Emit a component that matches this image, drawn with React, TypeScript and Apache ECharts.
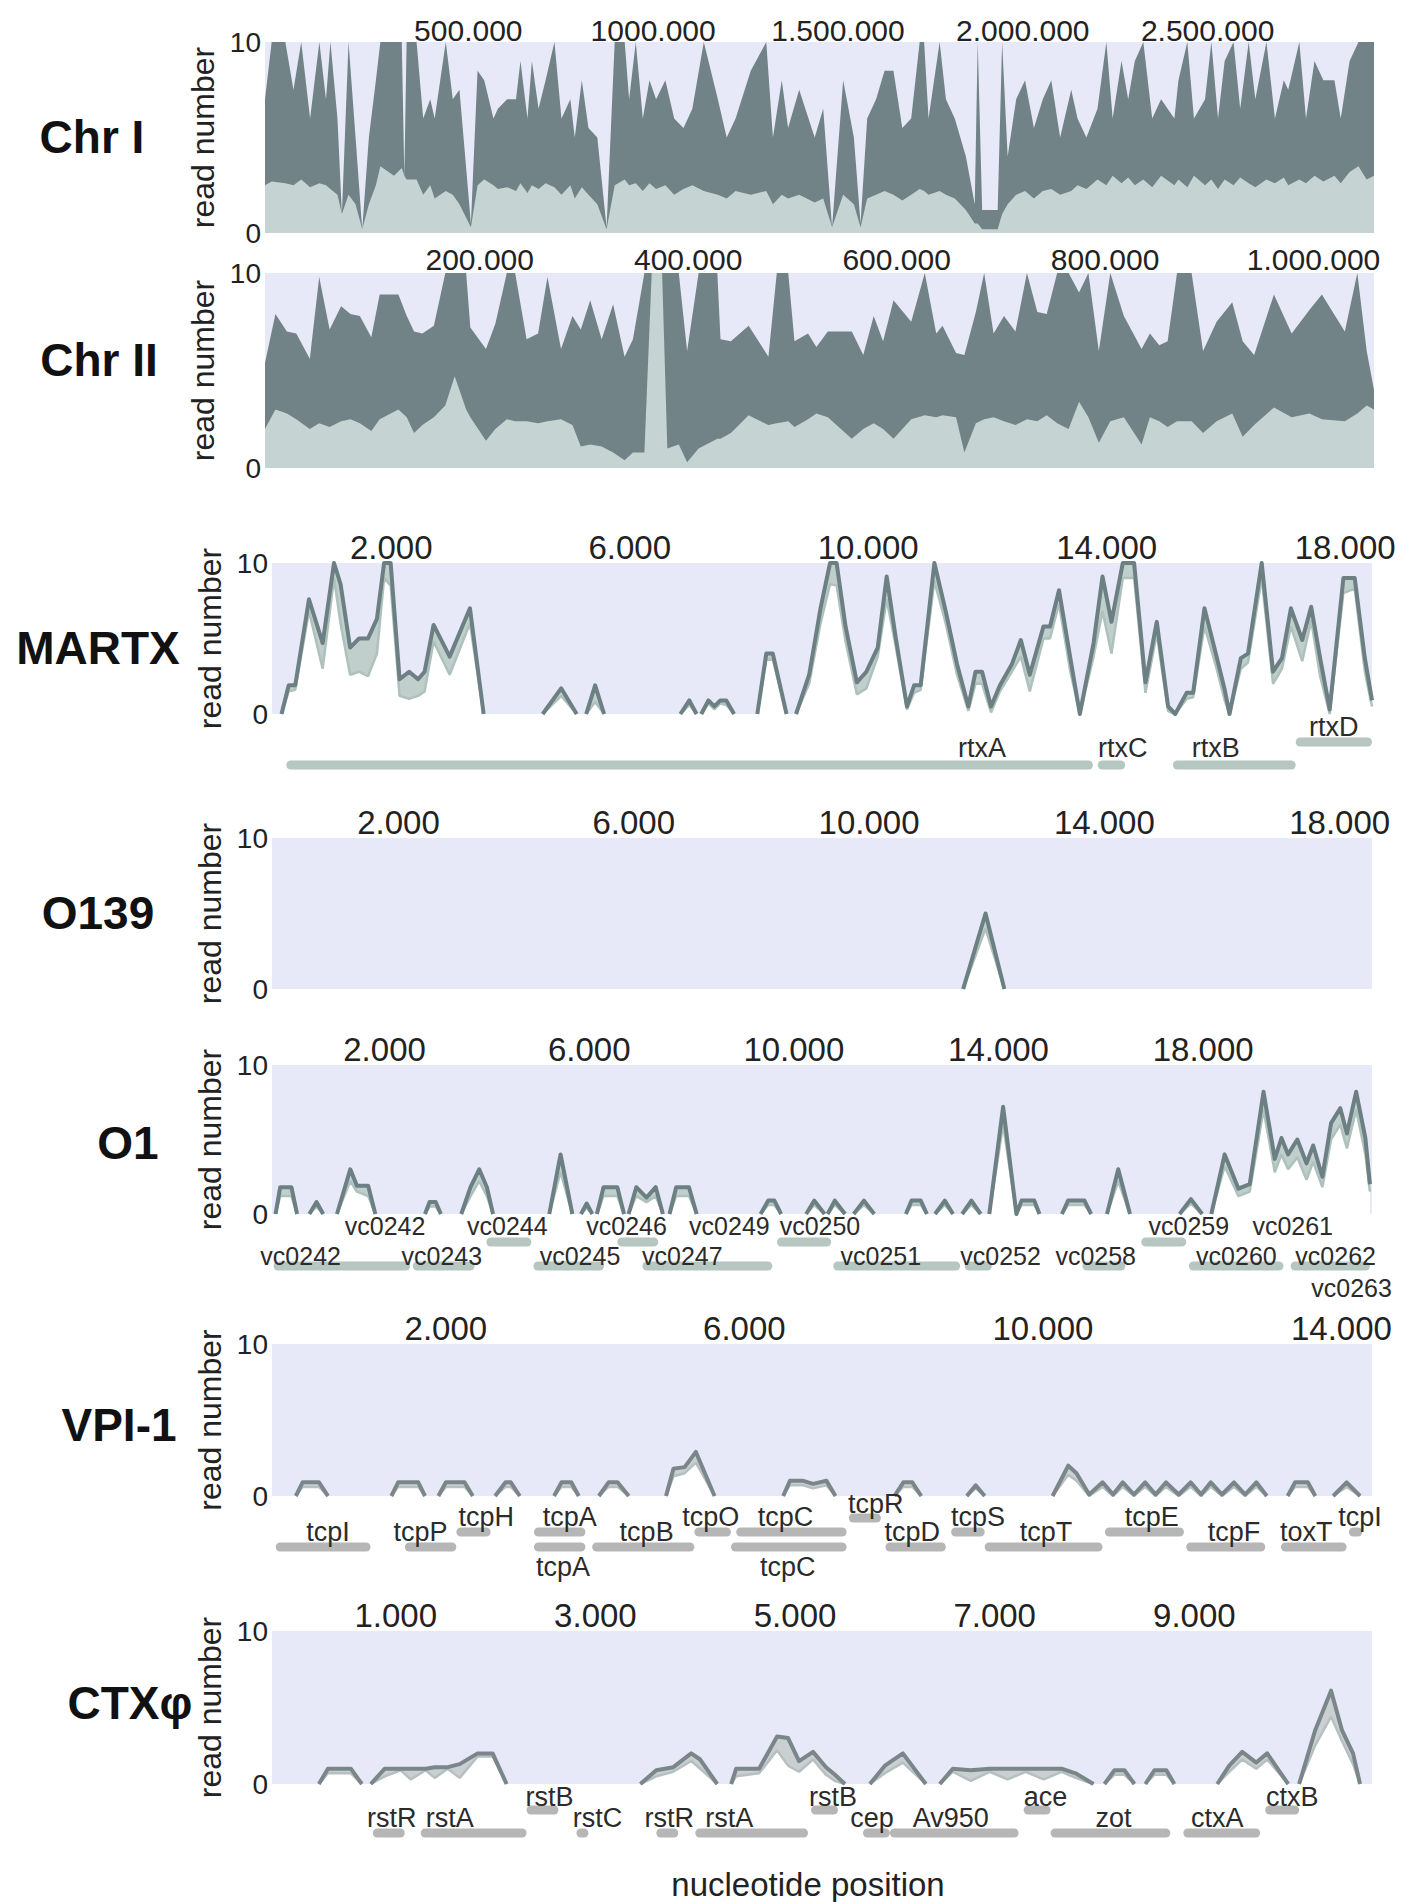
import React, { useEffect, useRef } from "react";
import * as echarts from "echarts";

const FONT = '"Liberation Sans", Arial, Helvetica, sans-serif';

// ---------------- Chr I (positions in kb) ----------------
const chr1Pos = [-50,-32,5,27,48,72,97,115,127,146,158,176,195,213,231,250,262,299,320,327,333,360,378,397,409,439,458,476,507,525,543,568,580,605,629,641,660,672,690,709,733,752,776,788,807,825,849,874,896,923,935,953,972,990,1008,1033,1057,1082,1106,1137,1175,1199,1223,1264,1306,1324,1348,1365,1395,1437,1460,1484,1514,1543,1561,1579,1603,1626,1650,1674,1698,1721,1733,1745,1775,1792,1816,1846,1870,1878,1890,1932,1944,1959,1982,2006,2030,2054,2077,2101,2131,2148,2172,2202,2226,2243,2267,2285,2303,2326,2350,2374,2410,2421,2445,2463,2493,2510,2528,2546,2570,2588,2611,2629,2659,2682,2706,2718,2748,2766,2789,2813,2843,2860,2884,2908,2930,2950];
const chr1High = [7,10,10,7.5,10,6,10,7,10,6,1,10,5,0.2,5,8,10,10,10,3,10,10,6,7,6,10,7,7.5,0.5,8.5,8,6,6.5,7,7,9,6,9,6.5,8,10,6,7,5,8,5.5,5,0.3,10,10,7,10,6,8,7,8,6,5.5,6.5,10,7,5,6,8.5,10,5,8,5.5,7.5,5,6.5,0.3,8,5,0.5,6,7,8.5,8.5,5.5,6,10,10,6,10,7,6,4,1.5,10,1.2,1.2,10,4,7,8,5.5,7,8,5,7.5,6,5,6.5,10,6,9,7,9,10,6,7,6,8,10,6,7,10,6,9,10,6.5,10,7,10,6,8,7.5,10,6,9,8,8,6,9,10,10,10];
const chr1Low = [2.5,2.7,2.6,2.5,2.8,2.4,2.6,2.5,2.3,2,1,2,1.5,0.2,1.5,2.5,3.5,3,3.4,3,2.8,2.8,2,2.5,1.8,2.2,2,1.5,0.3,2.5,2.8,2.5,2.3,2.4,2.2,2.6,2.1,2.5,2.3,2.6,2.4,2,2.5,1.8,2.4,2,1.5,0.2,2.5,2.8,2.5,2.6,2.2,2.6,2.3,2.5,2,2.3,2.5,2.2,2,1.8,2.2,2,2.2,1.5,2,1.8,2,1.6,1.8,0.3,2,1.5,0.3,1.8,2,2.2,2,1.7,2,2.3,2.2,2,2.2,2,1.8,1.2,0.5,0.5,0.2,0.2,1,1.5,2,2.2,1.8,2.2,2.3,2,2.2,2.5,2.3,2.8,2.5,3,2.6,2.9,2.5,2.8,2.4,3,2.5,2.8,2.4,3,2.5,2.8,2.3,2.8,2.5,2.9,2.6,2.4,2.8,2.6,2.9,2.5,2.8,2.6,3,2.7,3,2.6,3.2,3.5,2.8,3];
const chr1Ticks = [500, 1000, 1500, 2000, 2500];
const chr1TickLabels = ["500.000", "1000.000", "1.500.000", "2.000.000", "2.500.000"];

// ---------------- Chr II (kb) ----------------
const chr2Pos = [-6,4,15,24,37,46,56,67,76,85,96,104,122,130,137,145,156,167,176,187,191,206,215,226,234,245,256,265,278,289,297,306,317,328,339,347,358,365,375,380,391,399,410,428,431,441,458,477,485,496,502,515,523,534,557,568,578,587,597,614,627,638,644,657,665,676,684,693,703,714,725,735,744,754,765,775,784,794,805,818,835,843,852,860,869,883,894,907,922,932,943,962,979,996,1008,1030,1042,1051,1058];
const chr2High = [5.4,7.9,7,6.9,5.6,9.8,7.1,8.3,7.9,7.8,6.7,8.9,8.9,7.8,7,6.9,7.3,10,10,10,7.2,6.1,7.4,10,10,6.6,6.9,9.8,6.1,7.8,7.1,8.6,6.6,8.4,5.7,6.6,10,10,10,10,10,6,10,10,6.6,6.5,7.3,5.7,10,10,6.5,6.9,6.2,7,7,5.8,7.8,6.5,8.6,7.5,10,6.9,7.3,5.9,5.8,8,10,6.9,7.8,7,10,8,7.9,10,10,9,10,6,10,7.8,6.1,6.9,6.3,6.5,10,10,6,7.5,8.5,6.5,5.8,8.9,6.9,8.1,8.9,7,10,6,4];
const chr2Low = [2,3,2.8,2.5,2,2.3,2.1,2.4,2.5,2.3,1.9,2.5,3,2.6,1.8,2.2,2.6,3.2,4.7,3,2.6,1.4,2,2.5,2.4,2.4,2.3,2.4,2.5,2.2,1.1,1.2,1.1,0.8,0.4,0.8,0.8,10,10,1,1.2,0.3,1,1.5,1.5,1.8,2.7,2.2,2.3,2.4,2.1,2.5,2.8,2.6,1.5,2,2.3,2,1.5,2.5,2.7,2.6,2.7,2.6,0.8,2.3,2.5,2.6,2.4,2.2,2.5,2.4,2.7,2.3,2,3.4,2.6,1.3,2.4,2.6,1.2,2.6,2.4,2.1,2.4,2.4,1.8,2.4,2.8,1.6,2.2,3.1,2.6,2.8,2.5,2.4,2.8,3.2,3];
const chr2Ticks = [200, 400, 600, 800, 1000];
const chr2TickLabels = ["200.000", "400.000", "600.000", "800.000", "1.000.000"];

// ---------------- MARTX (kb) ----------------
const martxPos = [0.16,0.28,0.39,0.62,0.85,1.04,1.15,1.31,1.46,1.61,1.76,1.88,1.99,2.14,2.3,2.45,2.56,2.71,2.98,3.32,3.55,null,4.54,4.85,5.11,null,5.27,5.42,5.57,null,6.85,7.0,7.12,null,7.2,7.32,7.42,7.52,7.62,7.75,null,8.14,8.29,8.4,8.63,null,8.79,9.01,9.2,9.36,9.47,9.62,9.81,9.97,10.16,10.31,10.46,10.65,10.77,10.88,11.11,11.3,11.49,11.68,11.8,11.91,12.06,12.21,12.41,12.56,12.71,12.94,13.05,13.2,13.39,13.55,13.78,13.93,14.08,14.27,14.46,14.65,14.84,15.03,15.15,15.34,15.45,15.64,15.83,15.98,16.06,16.25,16.37,16.6,16.79,16.94,17.09,17.28,17.43,17.58,17.74,17.97,18.16,18.33,18.45];
const martxHigh = [0,1.9,1.9,7.6,4.7,10,8.6,4.4,5,5,6.3,10,10,2.3,2.8,2.3,2.8,5.9,3.8,7,0,null,0,1.7,0,null,0,1.9,0,null,0,0.9,0,null,0,0.9,0.5,0.9,0.9,0,null,0,4,4,0,null,0,2.6,7,10,10,5.8,2.1,2.8,4.4,9.1,5.1,0.5,1.9,1.9,10,6.8,3.3,0.5,2.8,2.8,0.5,1.9,3.3,4.9,2.6,5.8,5.8,8.2,3.7,0,4.7,9.1,6.1,10,10,2.1,6.1,0.5,0,1.4,1.4,7,4,1.6,0,3.7,4,10,2.8,3.7,7,4.9,7.1,3.7,0.3,9,9,3.7,0.9];
const martxLow = [0,1.5,1.6,6.8,3,9,6,2.6,2.8,2.5,4,9,8.5,1.2,1,1.2,1.5,4.8,2.6,6,0,null,0,1.2,0,null,0,0.8,0,null,0,0.6,0,null,0,0.7,0.3,0.7,0.6,0,null,0,3.6,3.6,0,null,0,2,6,8.6,8.5,4.8,1.3,1.7,3.8,7.6,4.5,0.3,1.4,1.6,8.8,6,2.6,0.2,2,2,0.1,1.5,2.8,3.8,1.5,5,5,7.3,2.8,0,3.8,6.8,4,9,9,1.4,5.3,0.2,0,1,1.1,5.8,3.2,0.9,0,3,3.4,9,2,3,5.8,3.5,6.2,2.5,0,8,8.3,2.8,0.5];
const martxTicks = [2, 6, 10, 14, 18];
const martxTickLabels = ["2.000", "6.000", "10.000", "14.000", "18.000"];
const martxGeneNames = ["rtxA", "rtxC", "rtxB", "rtxD"];
const martxGeneStart = [0.24, 13.85, 15.11, 17.17];
const martxGeneEnd = [13.77, 14.31, 17.17, 18.45];
const martxGeneRow = [0, 0, 0, 1];
const martxLabelAt = [11.91, 14.27, 15.83, 17.81];
const martxLabelRow = [0, 0, 0, 1];

// ---------------- O139 (kb) ----------------
const o139Pos = [11.6, 11.98, 12.3];
const o139High = [0, 5, 0];
const o139Low = [0, 4, 0];
const o139Ticks = [2, 6, 10, 14, 18];
const o139TickLabels = ["2.000", "6.000", "10.000", "14.000", "18.000"];

// ---------------- O1 (kb) ----------------
const o1Pos = [-0.13,-0.04,0.18,0.29,null,0.53,0.67,0.8,null,1.07,1.33,1.46,1.68,1.82,null,2.79,2.88,3.0,3.1,null,3.5,3.68,3.85,4.0,4.12,null,5.22,5.44,5.67,null,5.84,5.95,6.06,null,6.15,6.28,6.55,6.68,null,6.77,6.92,7.12,7.3,7.44,null,7.57,7.7,7.95,8.1,null,9.35,9.5,9.62,9.75,null,10.24,10.4,10.6,null,10.66,10.8,11.0,null,11.17,11.37,11.57,null,12.19,12.3,12.48,12.6,null,12.76,12.95,13.11,null,13.29,13.47,13.65,null,13.82,14.09,14.35,14.45,14.7,14.8,null,15.24,15.36,15.68,15.81,null,16.12,16.34,16.57,null,17.54,17.76,17.98,null,18.16,18.42,18.69,18.91,19.18,19.4,19.53,19.66,19.84,20.02,20.15,20.33,20.5,20.68,20.81,20.99,21.17,21.26];
const o1High = [0,1.8,1.8,0,null,0,0.8,0,null,0,3.0,1.9,1.9,0,null,0,0.8,0.8,0,null,0,1.8,3.0,1.8,0,null,0,4.0,0,null,0,0.7,0,null,0,1.8,1.8,0,null,0,1.8,1.1,1.8,0,null,0,1.8,1.8,0,null,0,0.9,0.9,0,null,0,0.9,0,null,0,0.9,0,null,0,0.9,0,null,0,0.9,0.9,0,null,0,0.9,0,null,0,0.9,0,null,0,7.2,0,0.9,0.9,0,null,0,0.9,0.9,0,null,0,3.0,0,null,0,1.0,0,null,0,4.0,1.7,2.0,8.2,3.7,5.1,4.0,5.0,3.4,4.6,2.5,6.1,7.1,5.4,8.2,5.1,2.0];
const o1Low = [0,1.2,1.2,0,null,0,0.5,0,null,0,2.2,1.5,1.2,0,null,0,0.5,0.5,0,null,0,1.2,2.2,1.2,0,null,0,2.8,0,null,0,0.4,0,null,0,1.2,1.2,0,null,0,1.2,0.8,1.2,0,null,0,1.2,1.2,0,null,0,0.6,0.6,0,null,0,0.6,0,null,0,0.6,0,null,0,0.6,0,null,0,0.6,0.6,0,null,0,0.6,0,null,0,0.6,0,null,0,6.0,0,0.6,0.6,0,null,0,0.6,0.6,0,null,0,2.2,0,null,0,0.7,0,null,0,3.2,1.2,1.5,7.0,2.8,4.0,3.0,3.8,2.3,3.5,1.8,5.0,6.0,4.4,7.0,4.0,1.5];
const o1Ticks = [2, 6, 10, 14, 18];
const o1TickLabels = ["2.000", "6.000", "10.000", "14.000", "18.000"];
const o1GeneNames = ["vc0242","vc0242","vc0243","vc0244","vc0245","vc0246","vc0247","vc0249","vc0250","vc0251","vc0252","vc0258","vc0259","vc0260","vc0261","vc0262","vc0263"];
const o1GeneStart = [-0.17,null,2.55,3.99,4.91,6.55,7.04,null,9.67,10.77,13.34,15.64,16.79,17.72,null,19.71,null];
const o1GeneEnd = [2.5,null,3.76,4.87,6.29,7.35,9.58,null,10.73,13.25,13.87,16.48,17.67,19.57,null,21.26,null];
const o1GeneRow = [0,-1,0,1,0,1,0,-1,1,0,0,0,1,0,-1,0,-1];
const o1LabelAt = [0.36,2.01,3.12,4.4,5.82,6.73,7.82,8.74,10.51,11.7,14.04,15.9,17.72,18.65,19.75,20.59,20.9];
const o1LabelRow = [0,1,0,1,0,1,0,1,1,0,0,0,1,0,1,0,2];

// ---------------- VPI-1 (kb) ----------------
const vpiPos = [-0.01,0.08,0.3,0.42,null,1.27,1.36,1.63,1.72,null,1.9,2.0,2.25,2.36,null,2.66,2.8,2.87,2.99,null,3.45,3.55,3.68,3.78,null,4.05,4.18,4.3,4.45,null,4.95,5.05,5.2,5.35,5.6,null,6.52,6.61,6.79,6.92,7.1,7.22,null,8.01,8.13,8.25,8.37,null,8.98,9.1,9.22,null,10.13,10.34,10.45,10.62,10.8,10.94,11.07,11.22,11.37,11.51,11.65,11.82,11.98,12.12,12.25,12.4,12.56,12.71,12.86,13.0,null,13.28,13.38,13.55,13.65,null,13.89,14.07,14.25];
const vpiHigh = [0,0.9,0.9,0,null,0,0.9,0.9,0,null,0,0.9,0.9,0,null,0,0.9,0.9,0,null,0,0.9,0.9,0,null,0,0.9,0.9,0,null,0,1.8,1.9,2.9,0,null,0,1,1,0.8,1,0,null,0,0.9,0.9,0,null,0,0.7,0,null,0,2.0,1.5,0.1,0.9,0.1,0.9,0.1,0.9,0.1,0.9,0.1,0.9,0.1,0.9,0.1,0.9,0.1,0.9,0,null,0,0.9,0.9,0,null,0,0.9,0];
const vpiLow = [0,0.6,0.6,0,null,0,0.6,0.6,0,null,0,0.6,0.6,0,null,0,0.6,0.6,0,null,0,0.6,0.6,0,null,0,0.6,0.6,0,null,0,1.3,1.5,2.2,0,null,0,0.7,0.7,0.5,0.7,0,null,0,0.6,0.6,0,null,0,0.5,0,null,0,1.4,1.0,0,0.6,0,0.6,0,0.6,0,0.6,0,0.6,0,0.6,0,0.6,0,0.6,0,null,0,0.6,0.6,0,null,0,0.6,0];
const vpiTicks = [2, 6, 10, 14];
const vpiTickLabels = ["2.000", "6.000", "10.000", "14.000"];
const vpiGeneNames = ["tcpI","tcpP","tcpH","tcpA","tcpA","tcpB","tcpO","tcpC","tcpC","tcpR","tcpD","tcpS","tcpT","tcpE","tcpF","toxT","tcpI"];
const vpiGeneStart = [-0.28,1.45,2.14,3.18,3.18,3.96,5.33,5.89,5.82,7.4,7.89,8.77,9.22,10.83,11.92,13.19,14.1];
const vpiGeneEnd = [0.99,2.14,2.6,3.87,3.87,5.33,5.82,7.37,7.37,7.83,8.7,9.22,10.8,11.89,12.98,14.07,14.28];
const vpiGeneRow = [0,0,1,1,0,0,1,1,0,2,0,1,0,1,0,0,1];
const vpiLabelAt = [0.42,1.66,2.54,3.66,3.57,4.69,5.55,6.55,6.58,7.76,8.25,9.13,10.04,11.46,12.56,13.53,14.25];
const vpiLabelRow = [0,0,1,1,3,0,1,1,3,2,0,1,0,1,0,0,1];

// ---------------- CTXphi (kb) ----------------
const ctxPos = [0.23,0.32,0.55,0.66,null,0.75,0.89,1.05,1.15,1.3,1.39,1.52,1.64,1.82,1.97,2.11,null,3.45,3.61,3.78,3.96,4.05,4.22,null,4.36,4.41,4.64,4.82,4.93,5.04,5.18,5.31,5.4,5.5,null,5.75,5.9,6.08,6.31,null,6.45,6.58,6.76,6.95,7.13,7.31,7.49,7.67,7.81,7.99,null,8.1,8.2,8.3,8.4,null,8.51,8.6,8.72,8.8,null,9.23,9.35,9.48,9.62,9.73,9.94,null,10.05,10.21,10.37,10.48,10.59,10.66];
const ctxHigh = [0,1.0,1.0,0,null,0,1.0,1.0,1.0,1.0,1.1,1.1,1.3,2.0,2.0,0,null,0,0.9,1.1,2.0,1.6,0,null,0,1.0,1.0,3.1,3.0,1.5,2.1,1.1,0.6,0,null,0,1.2,2.0,0,null,0,1.0,0.9,1.0,1.0,1.0,1.0,1.0,0.7,0,null,0,0.9,0.9,0,null,0,0.9,0.9,0,null,0,1.2,2.1,1.4,2.0,0,null,0,3.5,6.1,3.5,2.0,0];
const ctxLow = [0,0.7,0.7,0,null,0,0.5,0.9,0.3,0.9,0.4,1.0,0.4,1.8,1.8,0,null,0,0.5,0.8,1.5,1.0,0,null,0,0.5,0.7,2.2,1.2,0.8,1.6,0.6,0.2,0,null,0,0.7,1.4,0,null,0,0.8,0.2,0.8,0.3,0.8,0.3,0.8,0.4,0,null,0,0.6,0.6,0,null,0,0.6,0.6,0,null,0,0.8,1.6,1.0,1.6,0,null,0,2.5,4.4,2.8,1.3,0];
const ctxTicks = [1, 3, 5, 7, 9];
const ctxTickLabels = ["1.000", "3.000", "5.000", "7.000", "9.000"];
const ctxGeneNames = ["rstR","rstA","rstB","rstC","rstR","rstA","rstB","cep","Av950","ace","zot","ctxA","ctxB"];
const ctxGeneStart = [0.77,1.25,2.31,2.81,3.61,4.0,5.16,5.68,5.95,7.29,7.56,8.89,9.71];
const ctxGeneEnd = [1.09,2.31,2.63,2.93,3.83,5.13,5.43,5.95,7.24,7.56,8.76,9.66,10.05];
const ctxGeneRow = [0,0,1,0,0,0,1,0,0,1,0,0,1];
const ctxLabelAt = [0.96,1.54,2.54,3.02,3.74,4.34,5.38,5.77,6.56,7.51,8.19,9.23,9.98];
const ctxLabelRow = [0,0,1,0,0,0,1,0,0,1,0,0,1];

const panelNames = ["Chr I", "Chr II", "MARTX", "O139", "O1", "VPI-1", "CTXφ"];

// ---------------- layout / style (not data) ----------------
const LAV = "#e8e9f8";
const CHR_L = 265, CHR_R = 1374, SM_L = 272, SM_R = 1372;
const layout = [
  { top: 42, bottom: 233, left: CHR_L, right: CHR_R, min: -50, max: 2950, tickFont: 30, tickMargin: -3, nameGap: 30 },
  { top: 273, bottom: 468, left: CHR_L, right: CHR_R, min: -6, max: 1058, tickFont: 30, tickMargin: -1, nameGap: 30 },
  { top: 563, bottom: 714, left: SM_L, right: SM_R, min: 0, max: 18.45, tickFont: 33, tickMargin: -1, nameGap: 37 },
  { top: 838, bottom: 989, left: SM_L, right: SM_R, min: -0.15, max: 18.55, tickFont: 33, tickMargin: -1, nameGap: 37 },
  { top: 1065, bottom: 1214, left: SM_L, right: SM_R, min: -0.2, max: 21.3, tickFont: 33, tickMargin: -1, nameGap: 37 },
  { top: 1344, bottom: 1496, left: SM_L, right: SM_R, min: -0.33, max: 14.41, tickFont: 33, tickMargin: -1, nameGap: 37 },
  { top: 1631, bottom: 1784, left: SM_L, right: SM_R, min: -0.24, max: 10.78, tickFont: 33, tickMargin: -1, nameGap: 37 },
];
const titlePos = [[92, 137], [99, 360], [98, 648], [98, 913], [128, 1143], [119, 1425], [130, 1703]];

const greenPal = { band: "#c0cfcb", light: "#aec1bc", dark: "#6c7f82", bar: "#b6c6c1" };
const grayPal = { band: "#cad0d2", light: "#b6bfc1", dark: "#7a8689", bar: "#b6b6b6" };

function xAxisFor(i: number, ticks: number[], labels: string[]) {
  const L = layout[i];
  return {
    type: "value", gridIndex: i, position: "top", min: L.min, max: L.max,
    axisLine: { show: false }, axisTick: { show: false }, splitLine: { show: false },
    axisLabel: {
      customValues: ticks,
      formatter: (v: number) => {
        const k = ticks.findIndex((t) => Math.abs(t - v) < 1e-9);
        return k >= 0 ? labels[k] : "";
      },
      fontSize: L.tickFont, fontFamily: FONT, color: "#222", margin: L.tickMargin,
    },
  };
}

function yAxisFor(i: number) {
  const L = layout[i];
  return {
    type: "value", gridIndex: i, min: 0, max: 10, interval: 10,
    axisLine: { show: false }, axisTick: { show: false }, splitLine: { show: false },
    axisLabel: { fontSize: 28, fontFamily: FONT, color: "#222", margin: 4 },
    name: "read number", nameLocation: "middle", nameGap: L.nameGap,
    nameTextStyle: { fontSize: 32, fontFamily: FONT, color: "#222" },
  };
}

function chrSeries(i: number, pos: number[], high: number[], low: number[]) {
  const common = { type: "line", xAxisIndex: i, yAxisIndex: i, symbol: "none", silent: true, lineStyle: { width: 0, opacity: 0 } };
  return [
    { ...common, data: pos.map((x, j) => [x, high[j]]), areaStyle: { color: "#718386", opacity: 1 }, z: 2 },
    { ...common, data: pos.map((x, j) => [x, low[j]]), areaStyle: { color: "#c5d4d2", opacity: 1 }, z: 3 },
  ];
}

function profileSeries(i: number, pos: (number | null)[], high: (number | null)[], low: (number | null)[], pal: any) {
  const common = { type: "line", xAxisIndex: i, yAxisIndex: i, symbol: "none", silent: true, connectNulls: false };
  const hi = pos.map((x, j) => [x, high[j]]);
  const lo = pos.map((x, j) => [x, low[j]]);
  return [
    { ...common, data: hi, lineStyle: { width: 0, opacity: 0 }, areaStyle: { color: pal.band, opacity: 1 }, z: 2 },
    { ...common, data: lo, lineStyle: { width: 2.5, color: pal.light }, areaStyle: { color: "#ffffff", opacity: 1 }, z: 3 },
    { ...common, data: hi, lineStyle: { width: 4, color: pal.dark, join: "round" }, z: 4 },
  ];
}

const BAR_H = 9;
function geneSeries(
  i: number, names: string[], starts: (number | null)[], ends: (number | null)[], rows: number[],
  labelAt: number[], labelRows: number[], barY: number[], labelY: number[], color: string, fontSize: number
) {
  return {
    type: "custom", xAxisIndex: i, yAxisIndex: i, clip: false, silent: true, z: 10,
    encode: { x: 0, y: 1 },
    data: labelAt.map((x) => [x, 0]),
    renderItem: (params: any, api: any) => {
      const j = params.dataIndex;
      const s = starts[j], e = ends[j], r = rows[j];
      const children: any[] = [];
      if (s != null && e != null && r >= 0) {
        const p0 = api.coord([s, 0]);
        const p1 = api.coord([e, 0]);
        children.push({
          type: "rect",
          shape: { x: p0[0], y: p0[1] + barY[r] - BAR_H / 2, width: p1[0] - p0[0], height: BAR_H, r: BAR_H / 2 },
          style: { fill: color },
        });
      }
      const lp = api.coord([labelAt[j], 0]);
      children.push({
        type: "text", x: lp[0], y: lp[1] + labelY[labelRows[j]],
        style: {
          text: names[j], fill: "#2b2b2b", fontSize, fontFamily: FONT,
          align: "center", verticalAlign: "middle", textAlign: "center", textVerticalAlign: "middle",
        },
      });
      return { type: "group", children };
    },
  };
}

function buildOption() {
  const grids = layout.map((L) => ({
    left: L.left, top: L.top, width: L.right - L.left, height: L.bottom - L.top,
    show: true, backgroundColor: LAV, borderWidth: 0, containLabel: false,
  }));
  const xAxes = [
    xAxisFor(0, chr1Ticks, chr1TickLabels),
    xAxisFor(1, chr2Ticks, chr2TickLabels),
    xAxisFor(2, martxTicks, martxTickLabels),
    xAxisFor(3, o139Ticks, o139TickLabels),
    xAxisFor(4, o1Ticks, o1TickLabels),
    xAxisFor(5, vpiTicks, vpiTickLabels),
    xAxisFor(6, ctxTicks, ctxTickLabels),
  ];
  const yAxes = layout.map((_, i) => yAxisFor(i));
  const series: any[] = [
    ...chrSeries(0, chr1Pos, chr1High, chr1Low),
    ...chrSeries(1, chr2Pos, chr2High, chr2Low),
    ...profileSeries(2, martxPos, martxHigh, martxLow, greenPal),
    ...profileSeries(3, o139Pos, o139High, o139Low, greenPal),
    ...profileSeries(4, o1Pos, o1High, o1Low, greenPal),
    ...profileSeries(5, vpiPos, vpiHigh, vpiLow, grayPal),
    ...profileSeries(6, ctxPos, ctxHigh, ctxLow, grayPal),
    geneSeries(2, martxGeneNames, martxGeneStart, martxGeneEnd, martxGeneRow, martxLabelAt, martxLabelRow, [51, 28], [34, 13], greenPal.bar, 27),
    geneSeries(4, o1GeneNames, o1GeneStart, o1GeneEnd, o1GeneRow, o1LabelAt, o1LabelRow, [52, 28], [42, 12, 74], greenPal.bar, 25),
    geneSeries(5, vpiGeneNames, vpiGeneStart, vpiGeneEnd, vpiGeneRow, vpiLabelAt, vpiLabelRow, [51, 36, 22], [36, 21, 8, 71], grayPal.bar, 27),
    geneSeries(6, ctxGeneNames, ctxGeneStart, ctxGeneEnd, ctxGeneRow, ctxLabelAt, ctxLabelRow, [49, 26], [34, 13], grayPal.bar, 27),
  ];
  const titles: any[] = panelNames.map((t, i) => ({
    type: "text", x: titlePos[i][0], y: titlePos[i][1], silent: true,
    style: {
      text: t, fill: "#111", fontSize: 46, fontWeight: "bold", fontFamily: FONT,
      align: "center", verticalAlign: "middle", textAlign: "center", textVerticalAlign: "middle",
    },
  }));
  titles.push({
    type: "text", x: 808, y: 1884, silent: true,
    style: {
      text: "nucleotide position", fill: "#222", fontSize: 33, fontWeight: "normal", fontFamily: FONT,
      align: "center", verticalAlign: "middle", textAlign: "center", textVerticalAlign: "middle",
    },
  });
  return {
    animation: false,
    backgroundColor: "#ffffff",
    grid: grids,
    xAxis: xAxes,
    yAxis: yAxes,
    series,
    graphic: { elements: titles },
  };
}

export default function App() {
  const ref = useRef<HTMLDivElement>(null);
  useEffect(() => {
    if (!ref.current) return;
    const chart = echarts.init(ref.current, null, { renderer: "svg" });
    chart.setOption(buildOption() as any);
    return () => chart.dispose();
  }, []);
  return (
    <div
      ref={ref}
      style={{ position: "absolute", left: 0, top: 0, width: 1410, height: 1902, background: "#ffffff" }}
    />
  );
}
